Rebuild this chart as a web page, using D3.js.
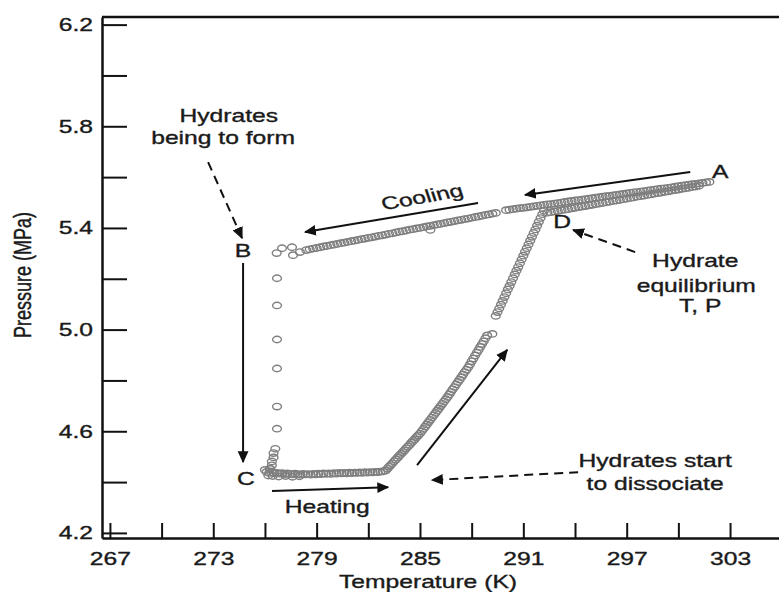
<!DOCTYPE html>
<html>
<head>
<meta charset="utf-8">
<script src="https://d3js.org/d3.v7.min.js"></script>
<style>
  body { margin: 0; background: #fff; }
  text { font-family: "Liberation Sans", Arial, sans-serif; fill: #1a1a1a; stroke: #1a1a1a; stroke-width: 0.35px; }
</style>
</head>
<body>
<div id="chart"></div>
<script>
// tick values and labels
const xTicks = [267, 270, 273, 276, 279, 282, 285, 288, 291, 294, 297, 300, 303];
const xLabels = [267, 273, 279, 285, 291, 297, 303];
const yTicks = [4.2, 4.4, 4.6, 4.8, 5.0, 5.2, 5.4, 5.6, 5.8, 6.0, 6.2];
const yLabels = [4.2, 4.6, 5.0, 5.4, 5.8, 6.2];

// [temperature K, pressure MPa]
const coolingA = [
  [301.8, 5.581], [301.6, 5.579], [301.4, 5.577], [301.2, 5.575], [301.0, 5.573],
  [300.8, 5.572], [300.6, 5.570], [300.4, 5.568], [300.2, 5.566], [300.0, 5.564],
  [299.8, 5.562], [299.6, 5.560], [299.4, 5.558], [299.2, 5.556], [299.0, 5.555],
  [298.8, 5.553], [298.6, 5.551], [298.4, 5.549], [298.2, 5.547], [298.0, 5.545],
  [297.8, 5.543], [297.6, 5.541], [297.4, 5.540], [297.2, 5.538], [297.0, 5.536],
  [296.8, 5.534], [296.6, 5.532], [296.4, 5.530], [296.2, 5.528], [296.0, 5.526],
  [295.8, 5.525], [295.6, 5.523], [295.4, 5.521], [295.2, 5.519], [295.0, 5.517],
  [294.8, 5.515], [294.6, 5.513], [294.4, 5.511], [294.2, 5.509], [294.0, 5.508],
  [293.8, 5.506], [293.6, 5.504], [293.4, 5.502], [293.2, 5.500], [293.0, 5.498],
  [292.8, 5.496], [292.6, 5.494], [292.4, 5.493], [292.2, 5.491], [292.0, 5.489],
  [291.8, 5.487], [291.6, 5.485], [291.4, 5.483], [291.2, 5.481], [291.0, 5.479],
  [290.8, 5.478], [290.6, 5.476], [290.4, 5.474], [290.2, 5.472], [290.0, 5.470]
];

const coolingB = [
  [289.4, 5.459], [289.2, 5.456], [289.0, 5.453], [288.8, 5.451], [288.6, 5.448],
  [288.4, 5.445], [288.2, 5.443], [288.0, 5.440], [287.8, 5.437], [287.6, 5.435],
  [287.4, 5.432], [287.2, 5.430], [287.0, 5.427], [286.8, 5.424], [286.6, 5.422],
  [286.4, 5.419], [286.2, 5.416], [286.0, 5.414], [285.8, 5.411], [285.6, 5.408],
  [285.6, 5.392], [285.4, 5.406], [285.2, 5.403], [285.0, 5.400], [284.8, 5.398],
  [284.6, 5.395], [284.4, 5.393], [284.2, 5.390], [284.0, 5.387], [283.8, 5.385],
  [283.6, 5.382], [283.4, 5.379], [283.2, 5.377], [283.0, 5.374], [282.8, 5.371],
  [282.6, 5.369], [282.4, 5.366], [282.2, 5.363], [282.0, 5.361], [281.8, 5.358],
  [281.6, 5.356], [281.4, 5.353], [281.2, 5.350], [281.0, 5.348], [280.8, 5.345],
  [280.6, 5.342], [280.4, 5.340], [280.2, 5.337], [280.0, 5.334], [279.8, 5.332],
  [279.6, 5.329], [279.4, 5.327], [279.2, 5.324], [279.0, 5.321], [278.8, 5.319],
  [278.6, 5.316], [278.4, 5.313], [278.03, 5.305], [277.63, 5.293], [277.57, 5.324],
  [276.99, 5.320], [276.68, 5.301]
];

const dropBC = [
  [276.7, 5.202], [276.7, 5.095], [276.7, 4.961], [276.7, 4.847], [276.7, 4.697],
  [276.7, 4.610], [276.6, 4.531], [276.5, 4.514], [276.5, 4.497], [276.4, 4.481],
  [276.4, 4.466], [276.3, 4.452]
];

const heatingFlat = [
  [276.00, 4.448], [276.30, 4.452], [276.20, 4.426], [276.45, 4.424], [276.80, 4.422],
  [277.20, 4.424], [277.60, 4.421], [278.00, 4.423],
  [276.10, 4.440], [276.25, 4.436], [276.40, 4.438], [276.55, 4.434], [276.70, 4.436],
  [276.85, 4.433], [277.00, 4.435], [277.15, 4.431], [277.30, 4.434], [277.45, 4.432],
  [277.60, 4.430], [277.75, 4.433], [277.90, 4.431], [278.05, 4.429], [278.20, 4.432],
  [278.35, 4.430], [278.50, 4.431], [278.65, 4.429], [278.80, 4.432], [278.95, 4.430],
  [279.10, 4.433], [279.25, 4.431], [279.40, 4.434], [279.55, 4.432], [279.70, 4.434],
  [279.85, 4.432], [280.00, 4.435], [280.15, 4.433], [280.30, 4.436], [280.45, 4.434],
  [280.60, 4.436], [280.75, 4.434], [280.90, 4.437], [281.05, 4.435], [281.20, 4.437],
  [281.35, 4.436], [281.50, 4.438], [281.65, 4.436], [281.80, 4.439], [281.95, 4.437],
  [282.10, 4.439], [282.25, 4.438], [282.40, 4.440], [282.55, 4.439], [282.70, 4.441],
  [282.85, 4.442]
];

const heatingRise = [
  [283.0, 4.445], [283.1, 4.452], [283.2, 4.460], [283.3, 4.467], [283.4, 4.474],
  [283.5, 4.482], [283.6, 4.489], [283.7, 4.496], [283.8, 4.504], [283.9, 4.511],
  [284.0, 4.518], [284.1, 4.525], [284.2, 4.533], [284.3, 4.540], [284.4, 4.547],
  [284.5, 4.555], [284.6, 4.562], [284.7, 4.569], [284.8, 4.577], [284.9, 4.584],
  [285.0, 4.591], [285.1, 4.600], [285.2, 4.609], [285.3, 4.618], [285.4, 4.627],
  [285.5, 4.636], [285.6, 4.645], [285.7, 4.654], [285.8, 4.663], [285.9, 4.672],
  [286.0, 4.681], [286.1, 4.690], [286.2, 4.699], [286.3, 4.708], [286.4, 4.717],
  [286.5, 4.726], [286.6, 4.735], [286.7, 4.745], [286.8, 4.755], [286.9, 4.765],
  [287.0, 4.774], [287.1, 4.784], [287.2, 4.794], [287.3, 4.803], [287.4, 4.813],
  [287.5, 4.823], [287.6, 4.833], [287.7, 4.842], [287.8, 4.852], [287.9, 4.863],
  [288.0, 4.875], [288.1, 4.886], [288.2, 4.898], [288.3, 4.909], [288.4, 4.920],
  [288.5, 4.932], [288.6, 4.943], [288.7, 4.954], [288.8, 4.966], [288.9, 4.977],
  [289.2, 4.983]
];

const heatingSteep = [
  [289.4, 5.054], [289.5, 5.069], [289.6, 5.083], [289.7, 5.098], [289.8, 5.113],
  [289.9, 5.128], [290.0, 5.143], [290.1, 5.158], [290.2, 5.172], [290.3, 5.187],
  [290.4, 5.202], [290.5, 5.217], [290.6, 5.232], [290.7, 5.246], [290.8, 5.261],
  [290.9, 5.276], [291.0, 5.291], [291.1, 5.306], [291.2, 5.320], [291.3, 5.335],
  [291.4, 5.350], [291.5, 5.365], [291.6, 5.380], [291.7, 5.394], [291.8, 5.409],
  [291.9, 5.424], [292.0, 5.439], [292.1, 5.454], [292.2, 5.468]
];

const heatingReturn = [
  [292.4, 5.460], [292.6, 5.462], [292.8, 5.465], [293.0, 5.467], [293.2, 5.470],
  [293.4, 5.472], [293.6, 5.474], [293.8, 5.477], [294.0, 5.479], [294.2, 5.482],
  [294.4, 5.484], [294.6, 5.486], [294.8, 5.489], [295.0, 5.491], [295.2, 5.494],
  [295.4, 5.496], [295.6, 5.498], [295.8, 5.501], [296.0, 5.503], [296.2, 5.506],
  [296.4, 5.508], [296.6, 5.510], [296.8, 5.513], [297.0, 5.515], [297.2, 5.518],
  [297.4, 5.520], [297.6, 5.523], [297.8, 5.525], [298.0, 5.527], [298.2, 5.530],
  [298.4, 5.532], [298.6, 5.535], [298.8, 5.537], [299.0, 5.539], [299.2, 5.542],
  [299.4, 5.544], [299.6, 5.547], [299.8, 5.549], [300.0, 5.551], [300.2, 5.554],
  [300.4, 5.556], [300.6, 5.558], [300.8, 5.561], [301.0, 5.563], [301.2, 5.566]
];

const runs = [coolingA, coolingB, dropBC, heatingFlat, heatingRise, heatingSteep, heatingReturn];

// the scanned figure is stretched sideways, so text is widened too
const sx = 1.37;
const width = 779;
const height = 592;

const x = d3.scaleLinear().domain([266.54, 305.9]).range([102, 780]);
const y = d3.scaleLinear().domain([4.18, 6.23]).range([538, 17]);

const svg = d3
  .select("#chart")
  .append("svg")
  .attr("width", width)
  .attr("height", height);

svg
  .append("defs")
  .append("marker")
  .attr("id", "head")
  .attr("viewBox", "0 -5 10 10")
  .attr("refX", 9)
  .attr("refY", 0)
  .attr("markerUnits", "userSpaceOnUse")
  .attr("markerWidth", 12)
  .attr("markerHeight", 12)
  .attr("orient", "auto")
  .append("path")
  .attr("d", "M0,-4.5L10,0L0,4.5Z")
  .attr("fill", "#111");

// axes
const xAxis = d3
  .axisBottom(x)
  .tickValues(xTicks)
  .tickSizeInner(-15)
  .tickSizeOuter(0)
  .tickPadding(14)
  .tickFormat((d) => (xLabels.includes(d) ? d : ""));

const yAxis = d3
  .axisLeft(y)
  .tickValues(yTicks)
  .tickSizeInner(-25)
  .tickSizeOuter(0)
  .tickFormat((d) => (yLabels.includes(d) ? d3.format(".1f")(d) : ""));

const gx = svg
  .append("g")
  .attr("transform", `translate(0, ${y.range()[0]})`)
  .call(xAxis);

const gy = svg
  .append("g")
  .attr("transform", `translate(${x.range()[0]}, 0)`)
  .call(yAxis);

[gx, gy].forEach((g) => {
  g.attr("font-size", 18).attr("font-family", null);
  g.select(".domain").attr("stroke", "#111").attr("stroke-width", 2.5);
  g.selectAll(".tick line").attr("stroke", "#111").attr("stroke-width", 2);
  g.selectAll(".tick text").attr("fill", "#1a1a1a");
});
gx.selectAll(".tick text").attr("transform", `scale(${sx},1)`);
gy.selectAll(".tick text").attr("x", -9 / sx).attr("transform", `scale(${sx},1)`);

// top frame line
svg
  .append("line")
  .attr("x1", x.range()[0])
  .attr("x2", x.range()[1])
  .attr("y1", y.range()[1])
  .attr("y2", y.range()[1])
  .attr("stroke", "#111")
  .attr("stroke-width", 2.5);

svg
  .append("text")
  .attr("transform", `translate(428, 588) scale(${sx},1)`)
  .attr("text-anchor", "middle")
  .attr("font-size", 18)
  .text("Temperature (K)");

svg
  .append("text")
  .attr("transform", `translate(31, 275) scale(${sx},1) rotate(-90)`)
  .attr("text-anchor", "middle")
  .attr("font-size", 18)
  .text("Pressure (MPa)");

// data points
svg
  .append("g")
  .selectAll("g")
  .data(runs)
  .enter()
  .append("g")
  .selectAll("ellipse")
  .data((d) => d)
  .enter()
  .append("ellipse")
  .attr("cx", (d) => x(d[0]))
  .attr("cy", (d) => y(d[1]))
  .attr("rx", 4.4)
  .attr("ry", 3.2)
  .attr("fill", "none")
  .attr("stroke", "#7f7f7f")
  .attr("stroke-width", 1.4);

// annotation arrows, [T1, P1, T2, P2, dashed]
const arrows = [
  [288.37, 5.498, 278.33, 5.384, false],
  [300.69, 5.620, 291.10, 5.530, false],
  [274.73, 5.262, 274.73, 4.479, false],
  [276.41, 4.365, 283.15, 4.380, false],
  [284.83, 4.467, 290.06, 4.920, false],
  [272.70, 5.659, 274.67, 5.360, true],
  [294.18, 4.439, 285.70, 4.408, true],
  [297.49, 5.305, 293.89, 5.392, true]
];

svg
  .append("g")
  .selectAll("line")
  .data(arrows)
  .enter()
  .append("line")
  .attr("x1", (d) => x(d[0]))
  .attr("y1", (d) => y(d[1]))
  .attr("x2", (d) => x(d[2]))
  .attr("y2", (d) => y(d[3]))
  .attr("stroke", "#111")
  .attr("stroke-width", 2)
  .attr("stroke-dasharray", (d) => (d[4] ? "9,6" : null))
  .attr("marker-end", "url(#head)");

// annotation text, [label, T, P]
const notes = [
  ["Hydrates", 273.9, 5.817],
  ["being to form", 273.57, 5.730],
  ["A", 302.43, 5.596],
  ["B", 274.73, 5.286],
  ["C", 274.9, 4.388],
  ["D", 293.25, 5.400],
  ["Heating", 279.61, 4.278],
  ["Hydrates start", 298.65, 4.459],
  ["to dissociate", 298.65, 4.368],
  ["Hydrate", 300.98, 5.246],
  ["equilibrium", 301.04, 5.148],
  ["T, P", 301.27, 5.069]
];

svg
  .append("g")
  .selectAll("text")
  .data(notes)
  .enter()
  .append("text")
  .attr("transform", (d) => `translate(${x(d[1])}, ${y(d[2])}) scale(${sx},1)`)
  .attr("text-anchor", "middle")
  .attr("font-size", 18)
  .text((d) => d[0]);

svg
  .append("text")
  .attr("transform", `translate(${x(285.12)}, ${y(5.522)}) scale(${sx},1) rotate(-13.5)`)
  .attr("text-anchor", "middle")
  .attr("dy", "0.35em")
  .attr("font-size", 18)
  .text("Cooling");
</script>
</body>
</html>
